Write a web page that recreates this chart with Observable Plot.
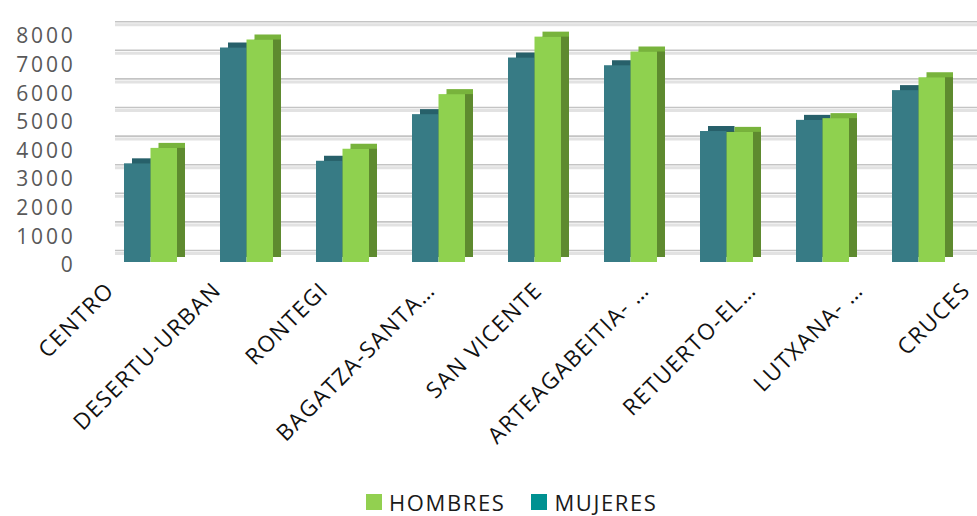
<!DOCTYPE html>
<html>
<head>
<meta charset="utf-8">
<script src="https://cdn.jsdelivr.net/npm/d3@7"></script>
<script src="https://cdn.jsdelivr.net/npm/@observablehq/plot@0.6"></script>
<style>
  html, body { margin: 0; padding: 0; background: #fff; overflow: hidden; }
  #wrap { position: relative; width: 977px; height: 516px; font-family: "Open Sans", sans-serif; }
  #wrap > * { position: absolute; left: 0; top: 0; }
  .main text { letter-spacing: 2.8px; }
  .labels text { letter-spacing: 1.4px; }
  #legend { top: 485px !important; left: 366px !important; }
  #legend .lg-swatch { margin-right: 26px !important; }
  #legend .lg-swatch svg { margin-right: 7px !important; }
</style>
</head>
<body>
<div id="wrap"></div>
<script>
const categories = ["CENTRO", "DESERTU-URBAN", "RONTEGI", "BAGATZA-SANTA…", "SAN VICENTE",
  "ARTEAGABEITIA- …", "RETUERTO-EL…", "LUTXANA- …", "CRUCES"];
const mujeres = [3450, 7500, 3540, 5170, 7150, 6880, 4580, 4970, 6010];
const hombres = [3990, 7780, 3960, 5870, 7880, 7360, 4550, 5030, 6460];
const yTicks = [0, 1000, 2000, 3000, 4000, 5000, 6000, 7000, 8000];
const seriesNames = ["HOMBRES", "MUJERES"];

const dataM = categories.map((c, i) => ({cat: c, value: mujeres[i]}));
const dataH = categories.map((c, i) => ({cat: c, value: hombres[i]}));

const teal = {front: "#377b85", top: "#27606a", side: "#225359"};
const green = {front: "#8fd14f", top: "#78b33c", side: "#5e8a2f"};
const half = 26.5;

function bar3d(data, col, inset) {
  return [
    Plot.barY(data, {x: "cat", y: "value", fill: col.top, dx: 8, dy: -5, ...inset}),
    Plot.barY(data, {x: "cat", y: "value", fill: col.side, dx: 8, dy: -5, insetTop: 5, ...inset}),
    Plot.barY(data, {x: "cat", y: "value", fill: col.front, ...inset})
  ];
}

const main = Plot.plot({
  className: "main",
  width: 977,
  height: 300,
  marginLeft: 115,
  marginRight: 0,
  marginTop: 0,
  marginBottom: 0,
  style: {fontFamily: "Open Sans, sans-serif", background: "transparent", overflow: "visible"},
  x: {type: "band", domain: categories, range: [101.4, 967.6], paddingInner: 0.45, paddingOuter: 0.225, axis: null},
  y: {domain: [0, 8000], range: [262, 33.2], axis: null, label: null},
  marks: [
    Plot.ruleY(yTicks, {stroke: "#e2e2e2", strokeWidth: 3, dy: -9}),
    Plot.ruleY(yTicks, {stroke: "#c4c4c4", strokeWidth: 1.6, dy: -12}),
    Plot.axisY(yTicks, {tickSize: 0, tickPadding: 40, dy: 3, fontSize: 21, fill: "#595959",
      label: null, tickFormat: d => String(d)}),
    ...bar3d(dataM, teal, {insetRight: half}),
    ...bar3d(dataH, green, {insetLeft: half})
  ]
});

const labels = Plot.plot({
  className: "labels",
  width: 977,
  height: 470,
  marginTop: 286,
  marginBottom: 0,
  marginLeft: 0,
  marginRight: 0,
  style: {fontFamily: "Open Sans, sans-serif", background: "transparent", overflow: "visible"},
  x: {type: "band", domain: categories, range: [50, 1025.6], axis: null},
  marks: [
    Plot.text(categories, {x: d => d, frameAnchor: "top", rotate: -45, textAnchor: "end",
      lineAnchor: "middle", fontSize: 22.5, fill: "#111"})
  ]
});

const legend = Plot.legend({
  legend: "swatches",
  className: "lg",
  color: {domain: seriesNames, range: ["#92d050", "#009191"]},
  swatchSize: 16,
  style: {fontFamily: "Open Sans, sans-serif", fontSize: "22px", color: "#1a1a1a", letterSpacing: "1.6px"}
});
legend.id = "legend";

const wrap = document.getElementById("wrap");
wrap.appendChild(main);
wrap.appendChild(labels);
wrap.appendChild(legend);
</script>
</body>
</html>
